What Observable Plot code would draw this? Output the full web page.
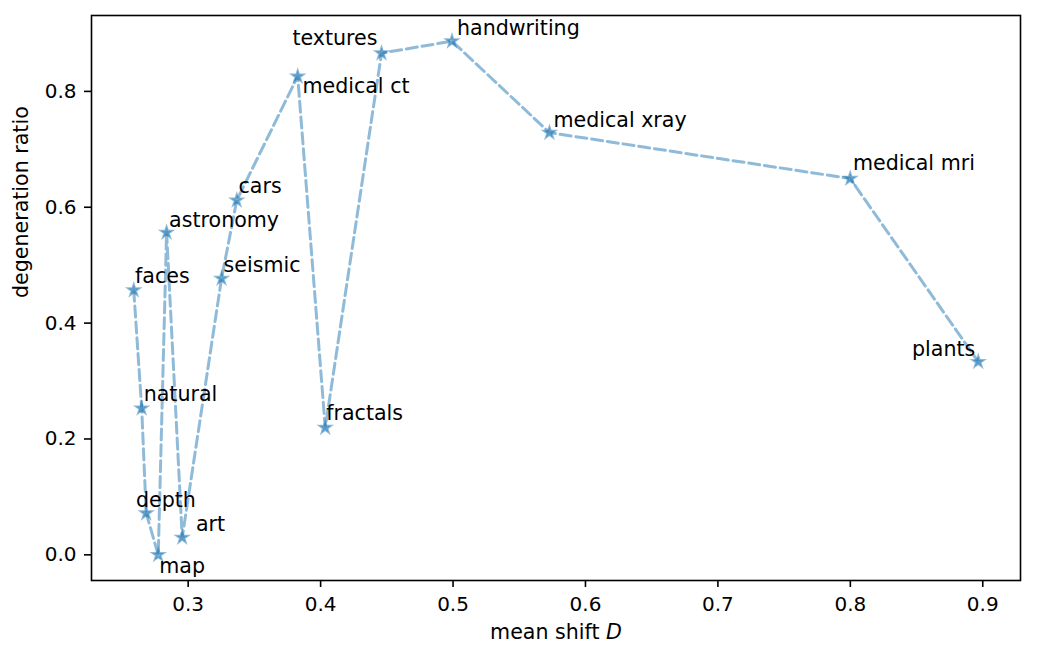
<!DOCTYPE html>
<html>
<head>
<meta charset="utf-8">
<script src="https://cdn.jsdelivr.net/npm/d3@7"></script>
<script src="https://cdn.jsdelivr.net/npm/@observablehq/plot@0.6"></script>
<style>
  html, body { margin: 0; padding: 0; background: white; }
  #chart { width: 1037px; height: 660px; }
</style>
</head>
<body>
<div id="chart"></div>
<script>
// ---- data ----
const names = ["faces", "natural", "depth", "map", "astronomy", "art", "seismic", "cars",
  "medical ct", "fractals", "textures", "handwriting", "medical xray", "medical mri", "plants"];
const meanShift = [0.2589, 0.2649, 0.2683, 0.2774, 0.2837, 0.2955, 0.3252, 0.3367,
  0.3827, 0.4035, 0.4460, 0.4992, 0.5728, 0.7999, 0.8966];
const degenRatio = [0.4569, 0.2529, 0.0719, 0.0000, 0.5564, 0.0299, 0.4770, 0.6120,
  0.8259, 0.2195, 0.8660, 0.8867, 0.7288, 0.6495, 0.3333];
const xTicks = [0.3, 0.4, 0.5, 0.6, 0.7, 0.8, 0.9];
const yTicks = [0.0, 0.2, 0.4, 0.6, 0.8];
const xLabel = "mean shift D";
const yLabel = "degeneration ratio";

// ---- label placement (pixels, relative to each point) ----
const labelLayout = {
  "faces": {dx: 1.3, dy: -7.3, anchor: "start"},
  "natural": {dx: 2, dy: -7.3, anchor: "start"},
  "depth": {dx: -10.3, dy: -6.6, anchor: "start"},
  "map": {dx: 1, dy: 17.7, anchor: "start"},
  "astronomy": {dx: 2.5, dy: -6, anchor: "start"},
  "art": {dx: 13.7, dy: -7, anchor: "start"},
  "seismic": {dx: 2, dy: -6.6, anchor: "start"},
  "cars": {dx: 1.7, dy: -7.3, anchor: "start"},
  "medical ct": {dx: 4.7, dy: 17, anchor: "start"},
  "fractals": {dx: 1, dy: -7.7, anchor: "start"},
  "textures": {dx: -4, dy: -7.7, anchor: "end"},
  "handwriting": {dx: 5, dy: -5.7, anchor: "start"},
  "medical xray": {dx: 4, dy: -5.6, anchor: "start"},
  "medical mri": {dx: 2.7, dy: -8.3, anchor: "start"},
  "plants": {dx: -3, dy: -5.7, anchor: "end"}
};

const idx = names.map((_, i) => i);
const blue = "#1f77b4";
const labelSize = 20.6;

const labelMarks = idx.map(i => {
  const L = labelLayout[names[i]];
  return Plot.text([i], {
    x: j => meanShift[j], y: j => degenRatio[j], text: j => names[j],
    dx: L.dx, dy: L.dy, textAnchor: L.anchor, lineAnchor: "bottom",
    fill: "black", fontSize: labelSize
  });
});

const chart = Plot.plot({
  width: 1037,
  height: 660,
  marginLeft: 91,
  marginRight: 17,
  marginTop: 15,
  marginBottom: 80,
  style: {fontFamily: "DejaVu Sans", fontSize: "20px", background: "white", color: "black"},
  x: {domain: [0.2270, 0.9285]},
  y: {domain: [-0.0443, 0.931]},
  marks: [
    Plot.line(idx, {x: i => meanShift[i], y: i => degenRatio[i], stroke: blue, strokeOpacity: 0.5,
      strokeWidth: 3, strokeDasharray: "11.1,4.8", curve: "linear"}),
    Plot.dot(idx, {x: i => meanShift[i], y: i => degenRatio[i], symbol: "star", r: 3.6,
      fill: blue, fillOpacity: 0.5, stroke: blue, strokeOpacity: 0.5, strokeWidth: 2}),
    ...labelMarks,
    Plot.axisX({ticks: xTicks, tickFormat: d3.format(".1f"), tickSize: 7, tickPadding: 9,
      strokeWidth: 1.6, label: null, fontSize: 20}),
    Plot.axisY({ticks: yTicks, tickFormat: d3.format(".1f"), tickSize: 7, tickPadding: 8,
      strokeWidth: 1.6, label: null, fontSize: 20}),
    Plot.frame({stroke: "black", strokeWidth: 1.6}),
    Plot.text([xLabel], {frameAnchor: "bottom", dy: 58, text: d => d, lineAnchor: "bottom",
      fill: "black", fontSize: labelSize}),
    Plot.text([yLabel], {frameAnchor: "left", dx: -63.5, rotate: -90, text: d => d,
      lineAnchor: "bottom", fill: "black", fontSize: labelSize})
  ]
});

document.getElementById("chart").appendChild(chart);

// italic "D" in the x-axis label (matplotlib mathtext)
d3.select(chart).selectAll("text").each(function() {
  if (this.textContent === xLabel) {
    const t = d3.select(this);
    t.text("mean shift ");
    t.append("tspan").attr("font-style", "italic").text("D");
  }
});
</script>
</body>
</html>
